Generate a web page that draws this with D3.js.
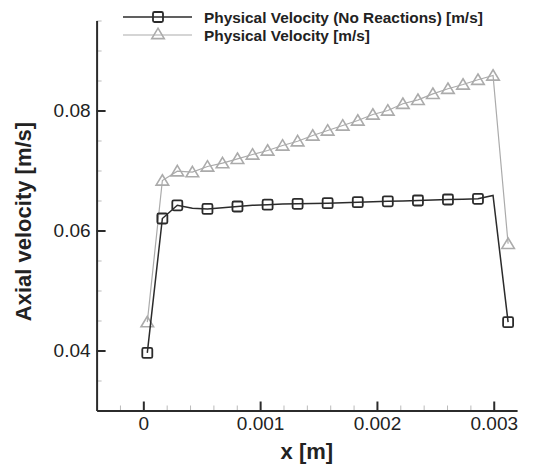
<!DOCTYPE html>
<html>
<head>
<meta charset="utf-8">
<script src="https://cdn.jsdelivr.net/npm/d3@7"></script>
<style>
  html, body { margin: 0; padding: 0; background: #fff; }
  svg { display: block; font-family: "Liberation Sans", Arial, Helvetica, sans-serif; }
</style>
</head>
<body>
<svg id="chart" width="538" height="467"></svg>
<script>
// ---- data ----
const xValues = [0.000034, 0.000163, 0.000291, 0.000420, 0.000549, 0.000678, 0.000806, 0.000935,
  0.001064, 0.001192, 0.001321, 0.001450, 0.001578, 0.001707, 0.001836, 0.001965,
  0.002093, 0.002222, 0.002351, 0.002479, 0.002608, 0.002737, 0.002865, 0.002994, 0.003123];
const noReactionVelocity = [0.0396, 0.0620, 0.0642, 0.0637, 0.0636, 0.0638, 0.0640, 0.0642,
  0.0643, 0.0644, 0.06445, 0.0645, 0.06455, 0.06463, 0.06472, 0.06478,
  0.06487, 0.06493, 0.0650, 0.06508, 0.06517, 0.06522, 0.06528, 0.06583, 0.04472];
const physicalVelocity = [0.04472, 0.06833, 0.06988, 0.06972, 0.07067, 0.07122, 0.07195, 0.07267,
  0.07333, 0.07417, 0.07488, 0.07583, 0.07667, 0.0775, 0.07833, 0.07933,
  0.0800, 0.08112, 0.08178, 0.08278, 0.08362, 0.08433, 0.08512, 0.08583, 0.05778];
const squareMarkerIndex = [0, 1, 2, 4, 6, 8, 10, 12, 14, 16, 18, 20, 22, 24];
const xTicks = [0, 0.001, 0.002, 0.003];
const xTickLabels = ["0", "0.001", "0.002", "0.003"];
const yTicks = [0.04, 0.06, 0.08];
const yTickLabels = ["0.04", "0.06", "0.08"];
const seriesNames = ["Physical Velocity (No Reactions) [m/s]", "Physical Velocity [m/s]"];
const xTitle = "x [m]";
const yTitle = "Axial velocity [m/s]";

// ---- layout ----
const svg = d3.select("#chart");
const x = d3.scaleLinear().domain([-0.0004, 0.0032]).range([96.6, 517.1]);
const y = d3.scaleLinear().domain([0.03, 0.095]).range([410.5, 20.5]);

const darkCol = "#2b2b2b";
const lightCol = "#ababab";

// minor ticks
const xMinor = d3.range(-2, 16).map(i => i * 0.0002).filter(v => Math.abs(v / 0.001 - Math.round(v / 0.001)) > 1e-6);
const yMinor = d3.range(7, 20).map(i => i * 0.005).filter(v => Math.abs(v / 0.02 - Math.round(v / 0.02)) > 1e-6);

const gxMinor = svg.append("g").attr("transform", `translate(0,${y(0.03)})`)
  .call(d3.axisBottom(x).tickValues(xMinor).tickSizeInner(-5).tickSizeOuter(0).tickFormat(""));
gxMinor.select(".domain").remove();
gxMinor.selectAll("line").attr("stroke", "#bbb").attr("stroke-width", 1);

const gyMinor = svg.append("g").attr("transform", `translate(${x(-0.0004)},0)`)
  .call(d3.axisLeft(y).tickValues(yMinor).tickSizeInner(-5).tickSizeOuter(0).tickFormat(""));
gyMinor.select(".domain").remove();
gyMinor.selectAll("line").attr("stroke", "#bbb").attr("stroke-width", 1);

// major axes
const gx = svg.append("g").attr("transform", `translate(0,${y(0.03)})`)
  .call(d3.axisBottom(x).tickValues(xTicks).tickSizeInner(-9).tickSizeOuter(0).tickPadding(6)
    .tickFormat((d, i) => xTickLabels[i]));
gx.select(".domain").attr("stroke", darkCol).attr("stroke-width", 2);
gx.selectAll(".tick line").attr("stroke", darkCol).attr("stroke-width", 2);
gx.selectAll(".tick text").attr("font-size", 19).attr("fill", "#222")
  .attr("font-family", "'Liberation Sans', Arial, sans-serif");

const gy = svg.append("g").attr("transform", `translate(${x(-0.0004)},0)`)
  .call(d3.axisLeft(y).tickValues(yTicks).tickSizeInner(-9).tickSizeOuter(0).tickPadding(6)
    .tickFormat((d, i) => yTickLabels[i]));
gy.select(".domain").attr("stroke", darkCol).attr("stroke-width", 2);
gy.selectAll(".tick line").attr("stroke", darkCol).attr("stroke-width", 2);
gy.selectAll(".tick text").attr("font-size", 19).attr("fill", "#222")
  .attr("font-family", "'Liberation Sans', Arial, sans-serif");

// axis titles
svg.append("text").attr("x", x(0.0014)).attr("y", 459)
  .attr("text-anchor", "middle").attr("font-size", 22).attr("font-weight", "bold").attr("fill", "#222")
  .text(xTitle);
svg.append("text").attr("transform", `translate(31,${y(0.0615)}) rotate(-90)`)
  .attr("text-anchor", "middle").attr("font-size", 22).attr("font-weight", "bold").attr("fill", "#222")
  .text(yTitle);

// lines
const line = d3.line().x(d => x(d[0])).y(d => y(d[1]));
const lightData = xValues.map((v, i) => [v, physicalVelocity[i]]);
const darkData = xValues.map((v, i) => [v, noReactionVelocity[i]]);

const triPath = (cx, cy) => {
  const s = 5.8;
  return `M${cx},${cy - s}L${cx + s * 1.08},${cy + s * 0.8}L${cx - s * 1.08},${cy + s * 0.8}Z`;
};

svg.append("path").attr("d", line(lightData)).attr("fill", "none")
  .attr("stroke", lightCol).attr("stroke-width", 1.2);
svg.append("g").selectAll("path").data(lightData).join("path")
  .attr("d", d => triPath(x(d[0]), y(d[1])))
  .attr("fill", "none").attr("stroke", lightCol).attr("stroke-width", 1.6);

svg.append("path").attr("d", line(darkData)).attr("fill", "none")
  .attr("stroke", darkCol).attr("stroke-width", 1.5);
svg.append("g").selectAll("rect").data(squareMarkerIndex.map(i => darkData[i])).join("rect")
  .attr("x", d => x(d[0]) - 5).attr("y", d => y(d[1]) - 5)
  .attr("width", 10).attr("height", 10).attr("rx", 1.5)
  .attr("fill", "none").attr("stroke", darkCol).attr("stroke-width", 1.8);

// legend
const lg = svg.append("g");
const legendRows = [
  { name: seriesNames[0], col: darkCol, ly: 17, marker: "square", lw: 1.5 },
  { name: seriesNames[1], col: lightCol, ly: 35, marker: "tri", lw: 1.2 }
];
legendRows.forEach(r => {
  lg.append("line").attr("x1", 123).attr("x2", 192).attr("y1", r.ly).attr("y2", r.ly)
    .attr("stroke", r.col).attr("stroke-width", r.lw);
  if (r.marker === "square") {
    lg.append("rect").attr("x", 153).attr("y", r.ly - 5).attr("width", 10).attr("height", 10).attr("rx", 1.5)
      .attr("fill", "none").attr("stroke", r.col).attr("stroke-width", 1.8);
  } else {
    lg.append("path").attr("d", triPath(158, r.ly - 1)).attr("fill", "none")
      .attr("stroke", r.col).attr("stroke-width", 1.6);
  }
  lg.append("text").attr("x", 204).attr("y", r.ly + 5.5)
    .attr("font-size", 15.4).attr("font-weight", "bold").attr("fill", "#222").text(r.name);
});
</script>
</body>
</html>
